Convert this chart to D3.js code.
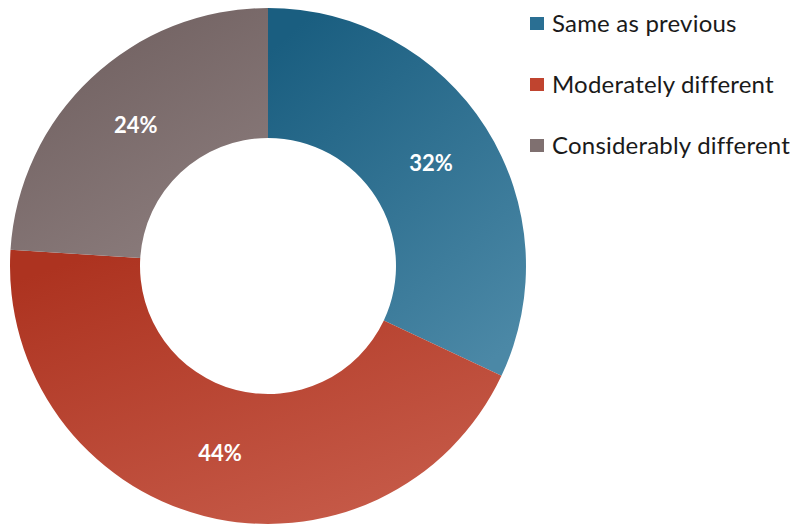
<!DOCTYPE html>
<html><head><meta charset="utf-8">
<script src="https://cdn.jsdelivr.net/npm/d3@7"></script>
<style>body{margin:0;background:#fff}svg{display:block}</style>
</head><body>
<svg id="c" width="797" height="526"></svg>
<script>
const categories = ["Same as previous", "Moderately different", "Considerably different"];
const values = [32, 44, 24];
const labels = ["32%", "44%", "24%"];
const colorsDark = ["#1a5e80", "#ad3320", "#6f5f5f"];
const colorsLight = ["#4b88a6", "#c75c4a", "#8c7d7d"];
const colorsLegend = ["#2a6f93", "#c0442f", "#7f7070"];

const svg = d3.select("#c");
const cx = 268, cy = 266, rOut = 258, rIn = 128;
const defs = svg.append("defs");
categories.forEach((c, i) => {
  const g = defs.append("linearGradient").attr("id", "g" + i)
    .attr("x1", 0.2).attr("y1", 0).attr("x2", 0.8).attr("y2", 1);
  g.append("stop").attr("offset", "0%").attr("stop-color", colorsDark[i]);
  g.append("stop").attr("offset", "100%").attr("stop-color", colorsLight[i]);
});
const pie = d3.pie().sort(null).value(d => d);
const arcs = pie(values);
const arc = d3.arc().innerRadius(rIn).outerRadius(rOut);
const labelArc = d3.arc().innerRadius((rIn + rOut) / 2).outerRadius((rIn + rOut) / 2);
const g = svg.append("g").attr("transform", `translate(${cx},${cy})`);
g.selectAll("path").data(arcs).join("path")
  .attr("d", arc).attr("fill", (d, i) => `url(#g${i})`);
g.selectAll("text").data(arcs).join("text")
  .attr("transform", d => `translate(${labelArc.centroid(d)})`)
  .attr("text-anchor", "middle").attr("dy", "0.36em")
  .attr("fill", "#fff").attr("font-family", "Lato, 'Open Sans', sans-serif")
  .attr("font-weight", "bold").attr("font-size", 22)
  .text((d, i) => labels[i]);

const leg = svg.append("g");
categories.forEach((c, i) => {
  const y = 17 + i * 61;
  leg.append("rect").attr("x", 530).attr("y", y).attr("width", 14).attr("height", 13)
    .attr("fill", colorsLegend[i]);
  leg.append("text").attr("x", 552).attr("y", y + 14.5)
    .attr("font-family", "Lato, 'Open Sans', sans-serif").attr("font-size", 24)
    .attr("letter-spacing", 0.2)
    .attr("fill", "#1a1a1a").text(c);
});
</script>
</body></html>
